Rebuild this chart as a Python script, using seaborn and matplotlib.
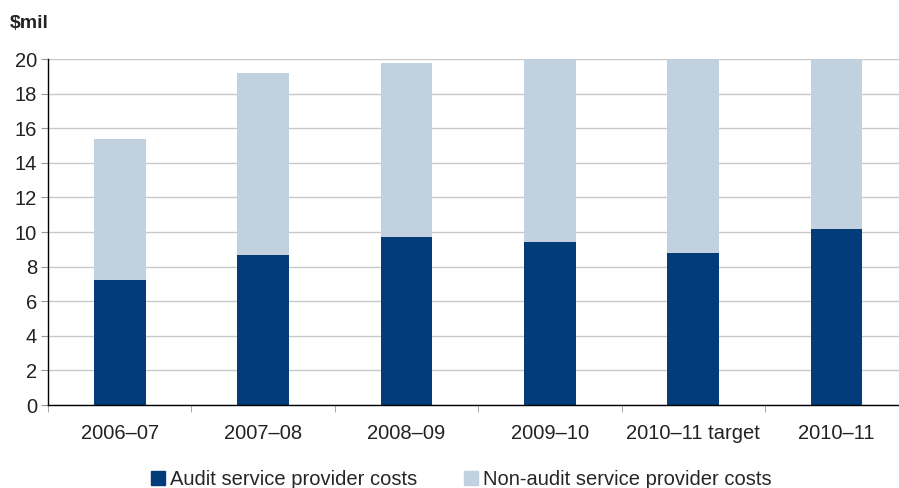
import matplotlib.pyplot as plt
import matplotlib.patches as mpatches
import numpy as np
import pandas as pd
import seaborn as sns

years = ["2006–07", "2007–08", "2008–09", "2009–10", "2010–11 target", "2010–11"]
audit_costs = [7.2, 8.7, 9.7, 9.4, 8.8, 10.2]
non_audit_costs = [8.2, 10.5, 10.1, 12.6, 14.2, 13.8]

dark_blue = "#023C79"
light_blue = "#C1D1E0"

sns.set_style("white")
plt.rcParams["font.family"] = ["Liberation Sans", "DejaVu Sans"]

df = pd.DataFrame({
    "year": years,
    "audit": audit_costs,
    "total": np.array(audit_costs) + np.array(non_audit_costs),
})

fig = plt.figure(figsize=(8.99, 4.88), dpi=100)
ax = fig.add_axes([0.0534, 0.170, 0.957, 0.709])

sns.barplot(data=df, x="year", y="total", color=light_blue, width=0.36,
            saturation=1, linewidth=0, ax=ax, zorder=3)
sns.barplot(data=df, x="year", y="audit", color=dark_blue, width=0.36,
            saturation=1, linewidth=0, ax=ax, zorder=3)

ax.set_ylim(0, 20)
ax.set_xlim(-0.5, 5.5)
ax.set_yticks(range(0, 21, 2))
ax.yaxis.grid(True, color="#C8C8C8", lw=1, zorder=0)
ax.set_axisbelow(True)
ax.set_xlabel("")
ax.set_ylabel("")

for s in ["top", "right"]:
    ax.spines[s].set_visible(False)
for s in ["left", "bottom"]:
    ax.spines[s].set_color("black")
    ax.spines[s].set_linewidth(1)
    ax.spines[s].set_zorder(4)

ax.tick_params(axis="y", left=True, length=5, color="#999999", labelsize=14.5,
               labelcolor="#222222", pad=3)
ax.tick_params(axis="x", which="major", length=0, labelsize=14.5,
               labelcolor="#222222", pad=14)
ax.set_xticks(np.arange(-0.5, 6.0, 1.0), minor=True)
ax.tick_params(axis="x", which="minor", bottom=True, length=5, color="#999999")

fig.text(0.011, 0.952, "$mil", fontsize=14, fontweight="bold",
         color="#222222", va="center", ha="left")

handles = [
    mpatches.Patch(color=dark_blue, label="Audit service provider costs"),
    mpatches.Patch(color=light_blue, label="Non-audit service provider costs"),
]
fig.legend(handles=handles, loc="lower center", bbox_to_anchor=(0.513, -0.04),
           ncol=2, frameon=False, fontsize=14.5, handlelength=0.7,
           handleheight=0.7, handletextpad=0.25, columnspacing=2.3)

fig.savefig("out.png", dpi=100)
